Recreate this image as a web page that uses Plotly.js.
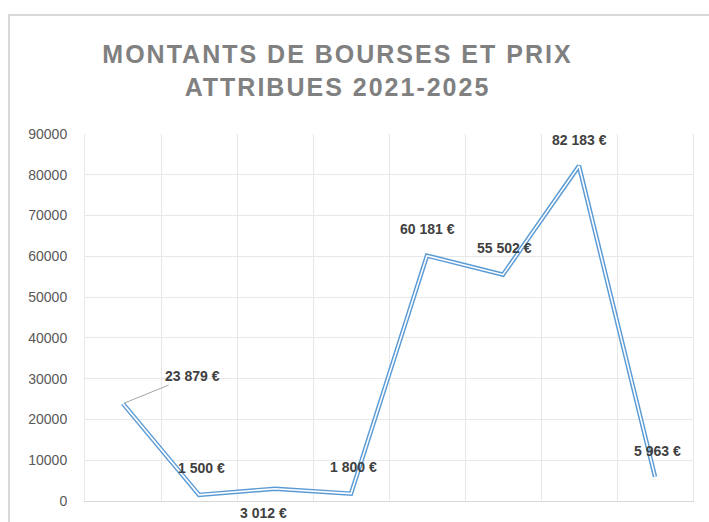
<!DOCTYPE html>
<html>
<head>
<meta charset="utf-8">
<script src="https://cdn.plot.ly/plotly-3.0.1.min.js"></script>
<style>
  html, body { margin: 0; padding: 0; background: #ffffff; }
  #wrap { position: relative; width: 709px; height: 522px; overflow: hidden; }
  #frame { position: absolute; left: 8px; top: 14px; width: 720px; height: 540px;
           border-left: 2px solid #d9d9d9; border-top: 2px solid #d9d9d9; pointer-events: none; }
  #chart { position: absolute; left: 0; top: 0; width: 709px; height: 522px; }
  .gtitle { letter-spacing: 2px; }
</style>
</head>
<body>
<div id="wrap">
  <div id="frame"></div>
  <div id="chart"></div>
</div>
<script>
// Data (x-axis category labels are cropped off in the reference)
var categories = [1, 2, 3, 4, 5, 6, 7, 8];
var amounts = [23879, 1500, 3012, 1800, 60181, 55502, 82183, 5963];
var yTicks = [0, 10000, 20000, 30000, 40000, 50000, 60000, 70000, 80000, 90000];
var titleText = "MONTANTS DE BOURSES ET PRIX<br>ATTRIBUES 2021-2025";

function fmtEuro(v) {
  var s = String(Math.round(v));
  var out = "";
  for (var i = 0; i < s.length; i++) {
    if (i > 0 && (s.length - i) % 3 === 0) out += "\u00a0";
    out += s[i];
  }
  return out + "\u00a0€";
}

// label placement offsets (pixels): [xshift, yshift]
var labelOffsets = [null, [2, 27], [-12, -24], [2, 27], [0, 27], [1, 27], [0, 26], [2, 26]];

var xs = categories.map(function (c, i) { return i; });

var traces = [
  { x: xs, y: amounts, type: 'scatter', mode: 'lines',
    line: { color: '#5b9bd5', width: 4.5 }, hoverinfo: 'skip', showlegend: false },
  { x: xs, y: amounts, type: 'scatter', mode: 'lines',
    line: { color: '#ffffff', width: 1.6 }, hoverinfo: 'skip', showlegend: false }
];

var labelFont = { family: 'Liberation Sans, Arial, sans-serif', size: 14, color: '#404040', weight: 'bold' };
var annotations = amounts.map(function (v, i) {
  var txt = '<b>' + fmtEuro(v) + '</b>';
  if (i === 0) {
    return { x: xs[i], y: v, xref: 'x', yref: 'y', text: txt, showarrow: true,
      arrowhead: 0, arrowwidth: 1, arrowcolor: '#a6a6a6', ax: 69, ay: -28,
      standoff: 2, font: labelFont };
  }
  return { x: xs[i], y: v, xref: 'x', yref: 'y', text: txt, showarrow: false,
    xshift: labelOffsets[i][0], yshift: labelOffsets[i][1], font: labelFont };
});

var layout = {
  width: 709, height: 522,
  paper_bgcolor: 'rgba(0,0,0,0)', plot_bgcolor: 'rgba(0,0,0,0)',
  margin: { l: 85, r: 16, t: 134, b: 21, pad: 0 },
  title: {
    text: titleText,
    font: { family: 'Liberation Sans, Arial, sans-serif', size: 25, color: '#808080', weight: 'bold' },
    xref: 'container', x: 0.476, xanchor: 'center',
    yref: 'container', y: 0.925, yanchor: 'top',
    pad: { t: 24 }
  },
  xaxis: {
    type: 'linear', range: [-0.5, 7.5], tick0: -0.5, dtick: 1,
    showticklabels: false, ticks: '', showgrid: true, gridcolor: '#e8e8e8', gridwidth: 1,
    zeroline: false, showline: true, linecolor: '#d9d9d9', linewidth: 1, fixedrange: true
  },
  yaxis: {
    range: [0, 90000], tickvals: yTicks, tickformat: 'd',
    showgrid: true, gridcolor: '#e8e8e8', gridwidth: 1, zeroline: false,
    showline: true, linecolor: '#e8e8e8', linewidth: 1, mirror: true,
    ticks: '', ticklabelstandoff: 14,
    tickfont: { family: 'Liberation Sans, Arial, sans-serif', size: 14, color: '#595959' },
    fixedrange: true
  },
  annotations: annotations,
  showlegend: false
};

Plotly.newPlot('chart', traces, layout, { displayModeBar: false, staticPlot: true });
</script>
</body>
</html>
